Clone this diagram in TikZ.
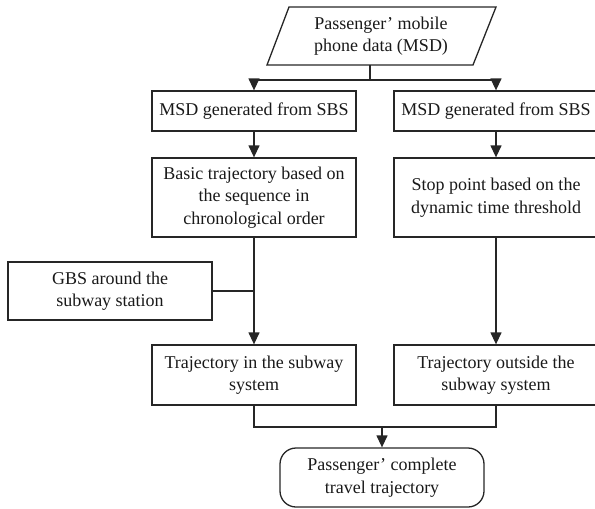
\documentclass[tikz,border=0pt]{standalone}
\usepackage{fontspec}
\setmainfont{Liberation Serif}
\usetikzlibrary{arrows.meta}
\begin{document}
\begin{tikzpicture}[x=1pt,y=-1pt,
  line width=1.3pt,
  color=black!85,
  txt/.style={font=\fontsize{18}{22.5}\selectfont, text=black!90, align=center, inner sep=0pt},
  box/.style={txt, draw, minimum width=204pt},
  arr/.style={-{Triangle[width=11pt,length=12pt]}}
]
\clip (0,0) rectangle (595,509);
% source parallelogram
\draw (289,7) -- (496,7) -- (473,65) -- (267,65) -- cycle;
\node[txt] (src) at (381,36) {Passenger’ mobile\\phone data (MSD)};
\coordinate (srcb) at (370,65);
\coordinate (j1) at (370,80);
% boxes
\node[box, minimum height=40pt] (msdL) at (254,111) {MSD generated from SBS};
\node[box, minimum height=40pt] (msdR) at (496,111) {MSD generated from SBS};
\node[box, minimum height=79pt] (basic) at (254,197.5) {Basic trajectory based on\\the sequence in\\chronological order};
\node[box, minimum height=79pt] (stop) at (496,197.5) {Stop point based on the\\dynamic time threshold};
\node[box, minimum height=58pt] (gbs) at (110,291) {GBS around the\\subway station};
\node[box, minimum height=60pt] (trajL) at (254,375) {Trajectory in the subway\\system};
\node[box, minimum height=60pt] (trajR) at (496,375) {Trajectory outside the\\subway system};
\node[box, minimum height=59pt, rounded corners=16pt] (final) at (382,477.5) {Passenger’ complete\\travel trajectory};
\coordinate (j2) at (382,427);
% connectors
\draw (srcb) -- (j1);
\draw[arr] (j1) -| (msdL.north);
\draw[arr] (j1) -| (msdR.north);
\draw[arr] (msdL) -- (basic);
\draw[arr] (msdR) -- (stop);
\draw[arr] (basic) -- (trajL);
\draw (gbs.east) -- (gbs.east -| basic.south);
\draw[arr] (stop) -- (trajR);
\draw (trajL.south) |- (j2);
\draw (trajR.south) |- (j2);
\draw[arr] (j2) -- (final.north);
\end{tikzpicture}
\end{document}
